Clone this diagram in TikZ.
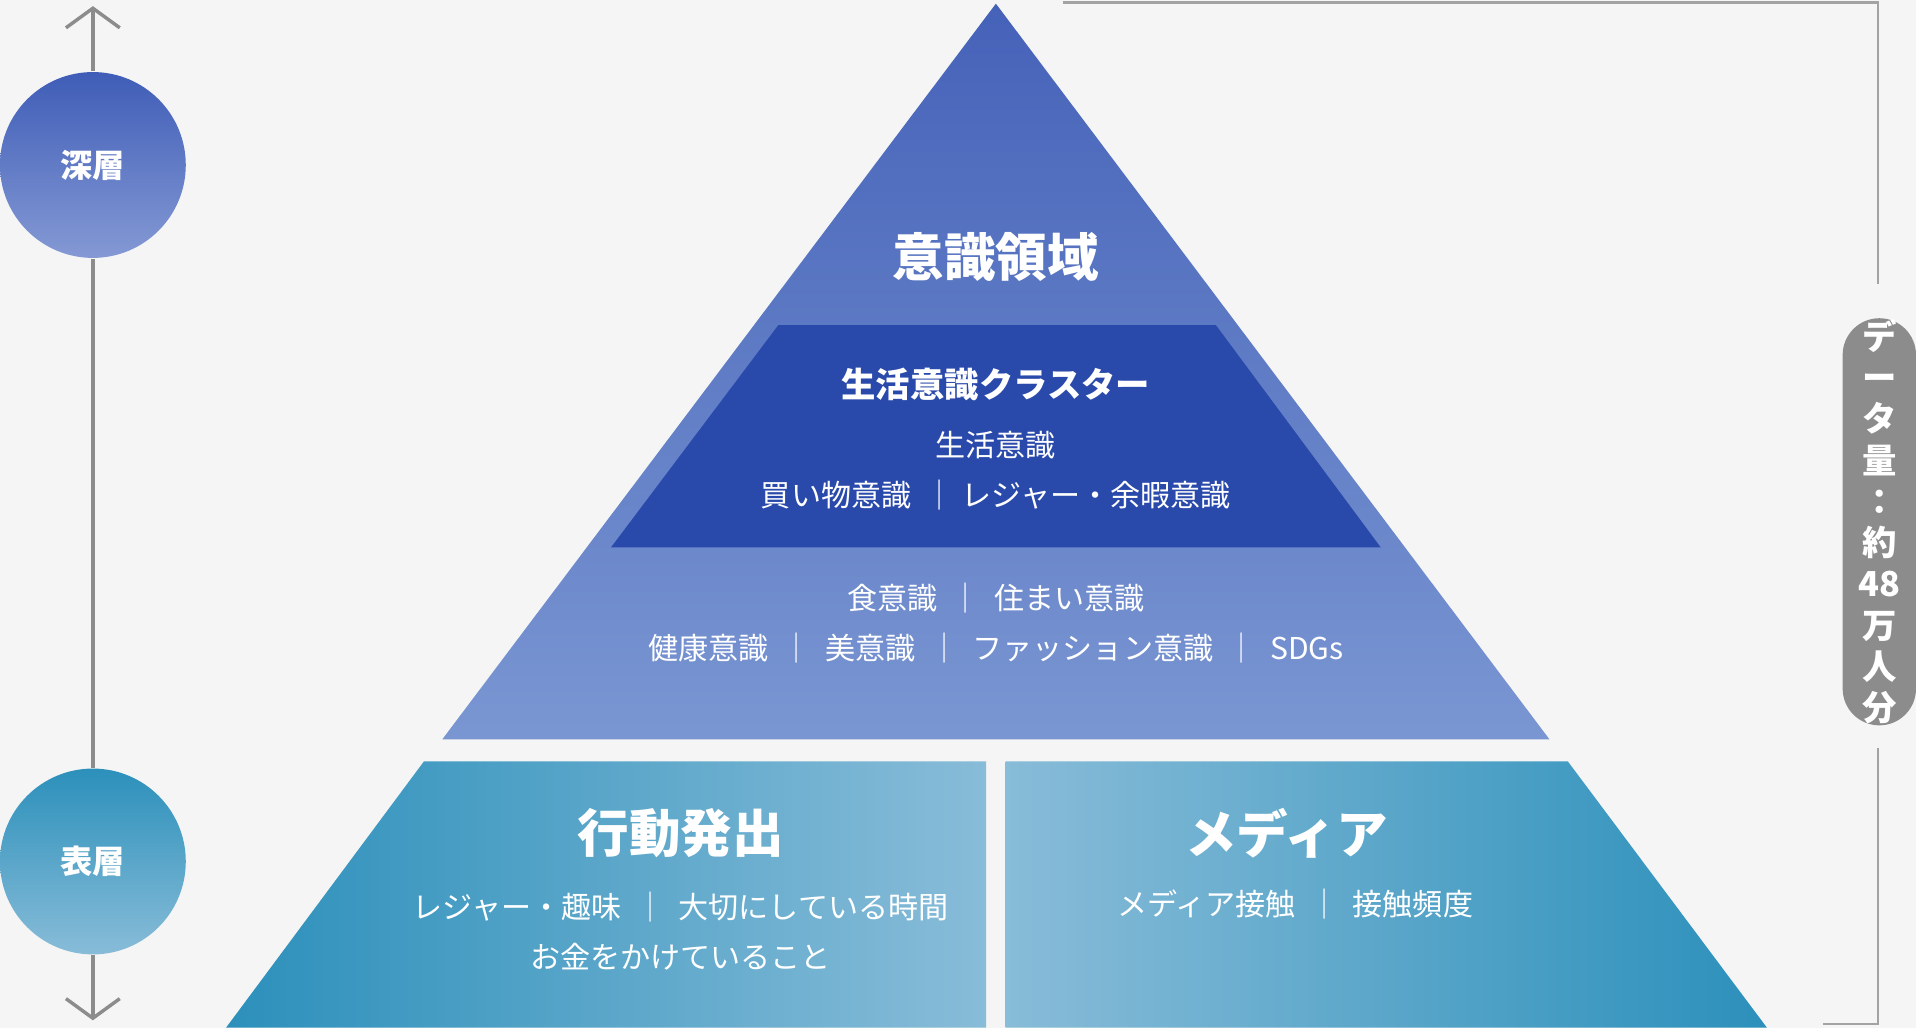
\documentclass[tikz,border=0pt]{standalone}
\usepackage{fontspec}
\setmainfont{Noto Sans CJK JP}
\usetikzlibrary{arrows.meta}
\definecolor{bg}{HTML}{F5F5F5}
\definecolor{deeptop}{HTML}{3F5DB7}
\definecolor{deepbot}{HTML}{8499D4}
\definecolor{pyrtop}{HTML}{4562B9}
\definecolor{pyrbot}{HTML}{7A96D2}
\definecolor{cluster}{HTML}{2A4AAB}
\definecolor{tealdark}{HTML}{2C90BB}
\definecolor{teallight}{HTML}{88BCD8}
\definecolor{linegray}{HTML}{8C8C8C}
\tikzset{
  layer/.style={circle, minimum size=1.52cm, text=white, font=\fontsize{7.5}{9}\selectfont\bfseries},
  head/.style={text=white, font=\fontsize{12}{14}\selectfont\bfseries},
  subhead/.style={text=white, font=\fontsize{8}{10}\selectfont\bfseries},
  body/.style={text=white, align=center, font=\fontsize{7}{11.5}\selectfont},
}
\begin{document}
\begin{tikzpicture}[x=0.01cm,y=-0.01cm]
\fill[bg] (0,0) rectangle (1568,841);
\useasboundingbox (0,0) rectangle (1568,841);
% depth axis
\node[layer, top color=deeptop, bottom color=deepbot] (deep) at (76,135) {深層};
\node[layer, top color=tealdark, bottom color=teallight] (surface) at (76,705) {表層};
\coordinate (axtop) at (76,5);
\coordinate (axbot) at (76,835);
\draw[linegray, line width=0.8pt, -{Straight Barb[length=1.6mm,width=4.4mm]}] (deep) -- (axtop);
\draw[linegray, line width=0.8pt] (deep) -- (surface);
\draw[linegray, line width=0.8pt, -{Straight Barb[length=1.6mm,width=4.4mm]}] (surface) -- (axbot);
% pyramid
\shade[top color=pyrtop, bottom color=pyrbot] (815,3) -- (1268,605) -- (362,605) -- cycle;
\fill[cluster] (637,266) -- (995,266) -- (1130,448) -- (500,448) -- cycle;
\node[head] (conscious) at (815,210) {意識領域};
\node[subhead] (clust) at (815,315) {生活意識クラスター};
\node[body] (clustitems) at (815,385) {生活意識\\買い物意識 \ ｜ レジャー・余暇意識};
\node[body] (items) at (815,510) {食意識 \ ｜ \ 住まい意識\\健康意識 \ ｜ \ 美意識 \ ｜ \ ファッション意識 \ ｜ \ SDGs};
% bottom blocks
\shade[left color=tealdark, right color=teallight] (347,623) -- (807,623) -- (807,841) -- (185,841) -- cycle;
\shade[left color=teallight, right color=tealdark] (823,623) -- (1283,623) -- (1446,841) -- (823,841) -- cycle;
\node[head] (action) at (557,682) {行動発出};
\node[body] (actitems) at (557,762) {レジャー・趣味 \ ｜ \ 大切にしている時間\\お金をかけていること};
\node[head] (media) at (1053,682) {メディア};
\node[body] (meditems) at (1060,740) {メディア接触 \ ｜ \ 接触頻度};
% data bracket
\node[fill=linegray, rounded corners=0.3cm, minimum width=0.6cm, minimum height=3.33cm, text=white, align=center,
  font=\fontsize{8}{9.6}\selectfont\bfseries, inner sep=0pt] (data) at (1538,427)
  {デ\\ー\\タ\\量\\：\\約\\48\\万\\人\\分};
\coordinate (brtop) at (870,2);
\coordinate (brbot) at (1492,838);
\draw[linegray!80, line width=0.6pt] (brtop) -- (1537,2) -- (1537,232);
\draw[linegray!80, line width=0.6pt] (1537,612) -- (1537,838) -- (brbot);
\end{tikzpicture}
\end{document}
